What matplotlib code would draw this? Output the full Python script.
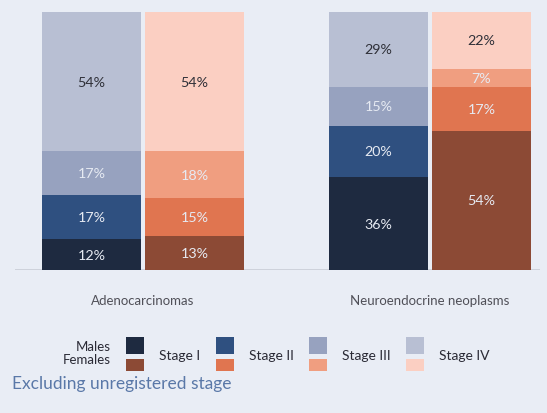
import matplotlib
matplotlib.use("Agg")
import matplotlib.pyplot as plt
from matplotlib.patches import Rectangle
import numpy as np

plt.rcParams['font.family'] = ['Lato', 'DejaVu Sans']

groups = ["Adenocarcinomas", "Neuroendocrine neoplasms"]
stages = ["Stage I", "Stage II", "Stage III", "Stage IV"]
males = {
    "Stage I": [12, 36],
    "Stage II": [17, 20],
    "Stage III": [17, 15],
    "Stage IV": [54, 29],
}
females = {
    "Stage I": [13, 54],
    "Stage II": [15, 17],
    "Stage III": [18, 7],
    "Stage IV": [54, 22],
}
male_colors = ["#1e2a40", "#2f5080", "#97a2bf", "#b8bfd3"]
female_colors = ["#8c4a35", "#e07550", "#f09e80", "#fbcfc2"]
text_colors = ["#e6eaf2", "#e6eaf2", "#e6eaf2", "#2f3038"]

bg = "#e9edf5"
W, H = 547, 414
fig = plt.figure(figsize=(W / 100, H / 100), dpi=100, facecolor=bg)
ax = fig.add_axes([15 / W, 1 - 271 / H, 525 / W, 258 / H], facecolor=bg)

x = np.arange(len(groups))
bw = 0.345
off = 0.179
for series, colors, sign in [(males, male_colors, -1), (females, female_colors, 1)]:
    bottom = np.zeros(len(groups))
    for i, st in enumerate(stages):
        vals = np.array(series[st], dtype=float)
        ax.bar(x + sign * off, vals, bw, bottom=bottom, color=colors[i], linewidth=0)
        for xi, v, b in zip(x + sign * off, vals, bottom):
            ax.text(xi, b + v / 2, f"{int(v)}%", ha="center", va="center",
                    fontsize=10.3, color=text_colors[i])
        bottom += vals

ax.set_xlim(-0.446, 1.383)
ax.set_ylim(0, 100)
ax.axhline(0, color="#c9cdd6", lw=1.2, zorder=0)
for s in ax.spines.values():
    s.set_visible(False)
ax.set_yticks([])
ax.set_xticks(x)
ax.set_xticklabels(groups, fontsize=9.5, color="#505058")
ax.tick_params(axis="x", length=0, pad=17)

# legend
def px(xp, yp):
    return xp / W, 1 - yp / H

fig.text(*px(111, 347), "Males", ha="right", va="center", fontsize=9.5, color="#2a2a35")
fig.text(*px(111, 360), "Females", ha="right", va="center", fontsize=9.5, color="#2a2a35")
sw_x = [126, 216, 309, 406]
for i, st in enumerate(stages):
    x0, y0 = px(sw_x[i], 355)
    fig.add_artist(Rectangle((x0, y0), 18 / W, 17 / H, transform=fig.transFigure,
                             facecolor=male_colors[i], edgecolor="none"))
    x1, y1 = px(sw_x[i], 372)
    fig.add_artist(Rectangle((x1, y1), 18 / W, 12 / H, transform=fig.transFigure,
                             facecolor=female_colors[i], edgecolor="none"))
    fig.text(*px(sw_x[i] + 33, 356), st, ha="left", va="center", fontsize=10, color="#2a2a35")

fig.text(*px(12, 384), "Excluding unregistered stage", ha="left", va="center",
         fontsize=12.5, color="#5a78a8")

fig.savefig("out.png", dpi=100, facecolor=bg)
